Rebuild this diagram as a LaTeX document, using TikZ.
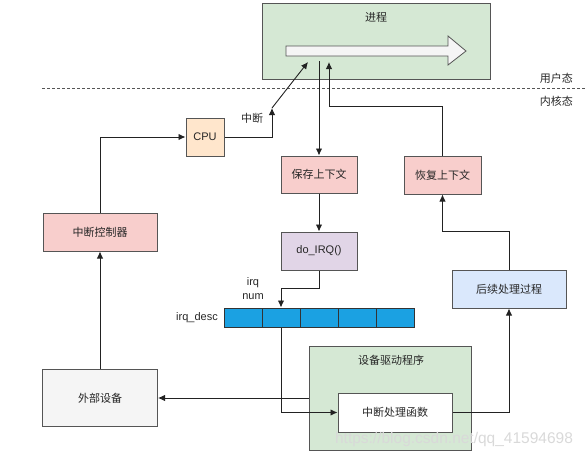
\documentclass[tikz,border=0pt]{standalone}
\usepackage{fontspec}
\setmainfont{Liberation Sans}
\newfontfamily\cjk{Noto Sans CJK SC}
\usetikzlibrary{calc,arrows,arrows.meta}

\definecolor{procgreen}{HTML}{D5E8D4}
\definecolor{pinkbox}{HTML}{F8CECC}
\definecolor{cpuorange}{HTML}{FFE6CC}
\definecolor{irqpurple}{HTML}{E1D5E7}
\definecolor{nextblue}{HTML}{DAE8FC}
\definecolor{devgray}{HTML}{F5F5F5}
\definecolor{descblue}{HTML}{1BA1E2}
\definecolor{boxline}{HTML}{555555}
\definecolor{linkcol}{HTML}{222222}

\begin{document}
\begin{tikzpicture}[x=1pt,y=-1pt,
    box/.style={draw=boxline,line width=1pt,inner sep=0pt,text=black!85,font=\cjk\fontsize{11}{13}\selectfont},
    lbl/.style={inner sep=0pt,text=black!85,font=\cjk\fontsize{11}{13}\selectfont},
    latin/.style={inner sep=0pt,text=black!85,font=\fontsize{11}{13}\selectfont},
    link/.style={-{Latex[length=7pt,width=6.5pt]},draw=linkcol,line width=0.9pt}]
  \useasboundingbox (0,0) rectangle (585,458);
  % user space
  \node[box,fill=procgreen,minimum width=228,minimum height=76](proc)at(376,41){};
  \node[lbl](proctitle)at(376,17){进程};
  \draw[draw=boxline,fill=devgray,line width=0.8pt](286,46)--(448,46)--(448,36)--(466,51)--(448,65)--(448,56)--(286,56)--cycle;
  \draw[boxline,line width=0.8pt,dash pattern=on 3pt off 2pt](42,88)--(585,88);
  \node[lbl,anchor=east](user)at(573,78){用户态};
  \node[lbl,anchor=east](kernel)at(573,101){内核态};
  % kernel side
  \node[box,fill=cpuorange,minimum width=38,minimum height=38,font=\fontsize{11}{13}\selectfont](cpu)at(205,137){CPU};
  \node[box,fill=pinkbox,minimum width=114,minimum height=38](ctrl)at(100,232){中断控制器};
  \node[box,fill=devgray,minimum width=115,minimum height=57](dev)at(100,398){外部设备};
  \node[box,fill=pinkbox,minimum width=76,minimum height=37](save)at(319,174.5){保存上下文};
  \node[box,fill=irqpurple,minimum width=76,minimum height=38,font=\fontsize{11}{13}\selectfont](doirq)at(319,251){do\_IRQ()};
  \node[box,fill=pinkbox,minimum width=77,minimum height=38](restore)at(442.5,175){恢复上下文};
  \node[box,fill=nextblue,minimum width=114,minimum height=38](next)at(509,289){后续处理过程};
  \foreach \i in {1,...,5}
    \node[box,draw=black!80,fill=descblue,minimum width=38,minimum height=19](cell\i)at({205+38*\i},317.5){};
  \node[latin,anchor=east](desclbl)at(218,318){irq\_desc};
  \node[latin,align=center](numlbl)at(253,289){irq\\[1pt]num};
  \node[box,fill=procgreen,minimum width=162,minimum height=104](driver)at(390,398){};
  \node[lbl](drvtitle)at(391,360){设备驱动程序};
  \node[box,fill=white,minimum width=114,minimum height=39](handler)at(395,412.5){中断处理函数};
  \node[text=gray!30,font=\fontsize{15.5}{17}\selectfont](mark)at(454,439){https://blog.csdn.net/qq\_41594698};
  % connectors
  \coordinate(irqtip)at(272,108);
  \coordinate(userin)at(308,62);
  \coordinate(trapout)at(319,61);
  \coordinate(userback)at(329,62);
  \draw[link](dev)--(ctrl);
  \draw[link](ctrl.north)|-(cpu.west);
  \draw[link](cpu.east)-|(irqtip);
  \node[lbl](irqlbl)at(252,118){中断};
  \draw[link](irqtip)--(userin);
  \draw[link](trapout)--(save);
  \draw[link](save)--(doirq);
  \draw[link](doirq.south)--++(0,18)-|(cell2.north);
  \draw[link](cell2.south)|-(handler.west);
  \draw[link](driver.west)--(dev.east);
  \draw[link](handler.east)-|(next.south);
  \draw[link](next.north)--++(0,-38)-|(restore.south);
  \draw[link](restore.north)--++(0,-49)-|(userback);
\end{tikzpicture}
\end{document}
